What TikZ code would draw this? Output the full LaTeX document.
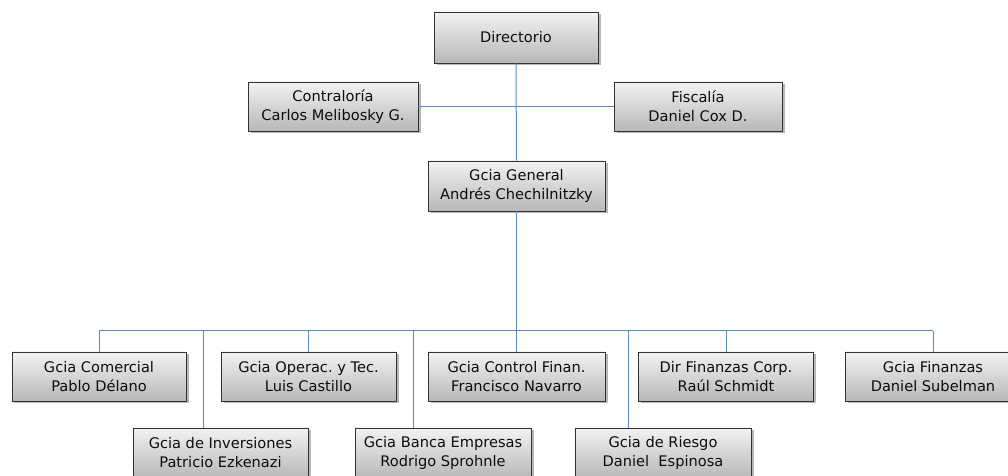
\documentclass[tikz,border=0pt]{standalone}
\usepackage{fontspec}
\setmainfont{DejaVu Sans}
\usetikzlibrary{shadows}
\definecolor{linkblue}{HTML}{5A8AC6}
\definecolor{boxedge}{HTML}{333333}
\tikzset{
  orgbox/.style={draw=boxedge, line width=0.9bp, rectangle, align=center,
    top color=black!5, bottom color=black!28,
    inner sep=0pt, text=black!95,
    font=\fontsize{14.6bp}{19bp}\selectfont,
    drop shadow={shadow xshift=2.5bp, shadow yshift=-2.5bp, fill=black!40, opacity=0.7}},
  link/.style={draw=linkblue, line width=1bp}
}
\begin{document}
\begin{tikzpicture}[x=1bp, y=-1bp]
\useasboundingbox (0,0) rectangle (1008,476);
% top
\node[orgbox, minimum width=164bp, minimum height=51bp] (dir) at (516,37.5) {Directorio};
\node[orgbox, minimum width=170bp, minimum height=49bp] (contr) at (333,106.5) {Contraloría\\Carlos Melibosky G.};
\node[orgbox, minimum width=168bp, minimum height=49bp] (fisc) at (698,106.5) {Fiscalía\\Daniel Cox D.};
\node[orgbox, minimum width=177bp, minimum height=50bp] (gen) at (516.5,186) {Gcia General\\Andrés Chechilnitzky};
% row 1
\node[orgbox, minimum width=174bp, minimum height=49bp] (com) at (99,376.5) {Gcia Comercial\\Pablo Délano};
\node[orgbox, minimum width=175bp, minimum height=49bp] (oper) at (308.5,376.5) {Gcia Operac.\ y Tec.\\Luis Castillo};
\node[orgbox, minimum width=177bp, minimum height=49bp] (ctrl) at (516.5,376.5) {Gcia Control Finan.\\Francisco Navarro};
\node[orgbox, minimum width=175bp, minimum height=49bp] (dirfin) at (726,376.5) {Dir Finanzas Corp.\\Raúl Schmidt};
\node[orgbox, minimum width=176bp, minimum height=49bp] (fin) at (933,376.5) {Gcia Finanzas\\Daniel Subelman};
% row 2
\node[orgbox, minimum width=175bp, minimum height=50bp] (inv) at (220.5,453) {Gcia de Inversiones\\Patricio Ezkenazi};
\node[orgbox, minimum width=176bp, minimum height=50bp] (banca) at (443,453) {Gcia Banca Empresas\\Rodrigo Sprohnle};
\node[orgbox, minimum width=176bp, minimum height=50bp] (riesgo) at (663,453) {Gcia de Riesgo\\Daniel\ \ Espinosa};
% connectors
\coordinate (bus) at (516,331);
\coordinate (dinv) at (203,331);
\coordinate (dbanca) at (413,331);
\coordinate (driesgo) at (628,331);
\draw[link] (dir.south) -- (gen.north);
\draw[link] (contr.east) -- (fisc.west);
\draw[link] (gen.south) -- (gen.south |- bus);
\draw[link] (com.north |- bus) -- (fin.north |- bus);
\draw[link] (com.north |- bus) -- (com.north);
\draw[link] (oper.north |- bus) -- (oper.north);
\draw[link] (ctrl.north |- bus) -- (ctrl.north);
\draw[link] (dirfin.north |- bus) -- (dirfin.north);
\draw[link] (fin.north |- bus) -- (fin.north);
\draw[link] (dinv) -- (dinv |- inv.north);
\draw[link] (dbanca) -- (dbanca |- banca.north);
\draw[link] (driesgo) -- (driesgo |- riesgo.north);
\end{tikzpicture}
\end{document}
